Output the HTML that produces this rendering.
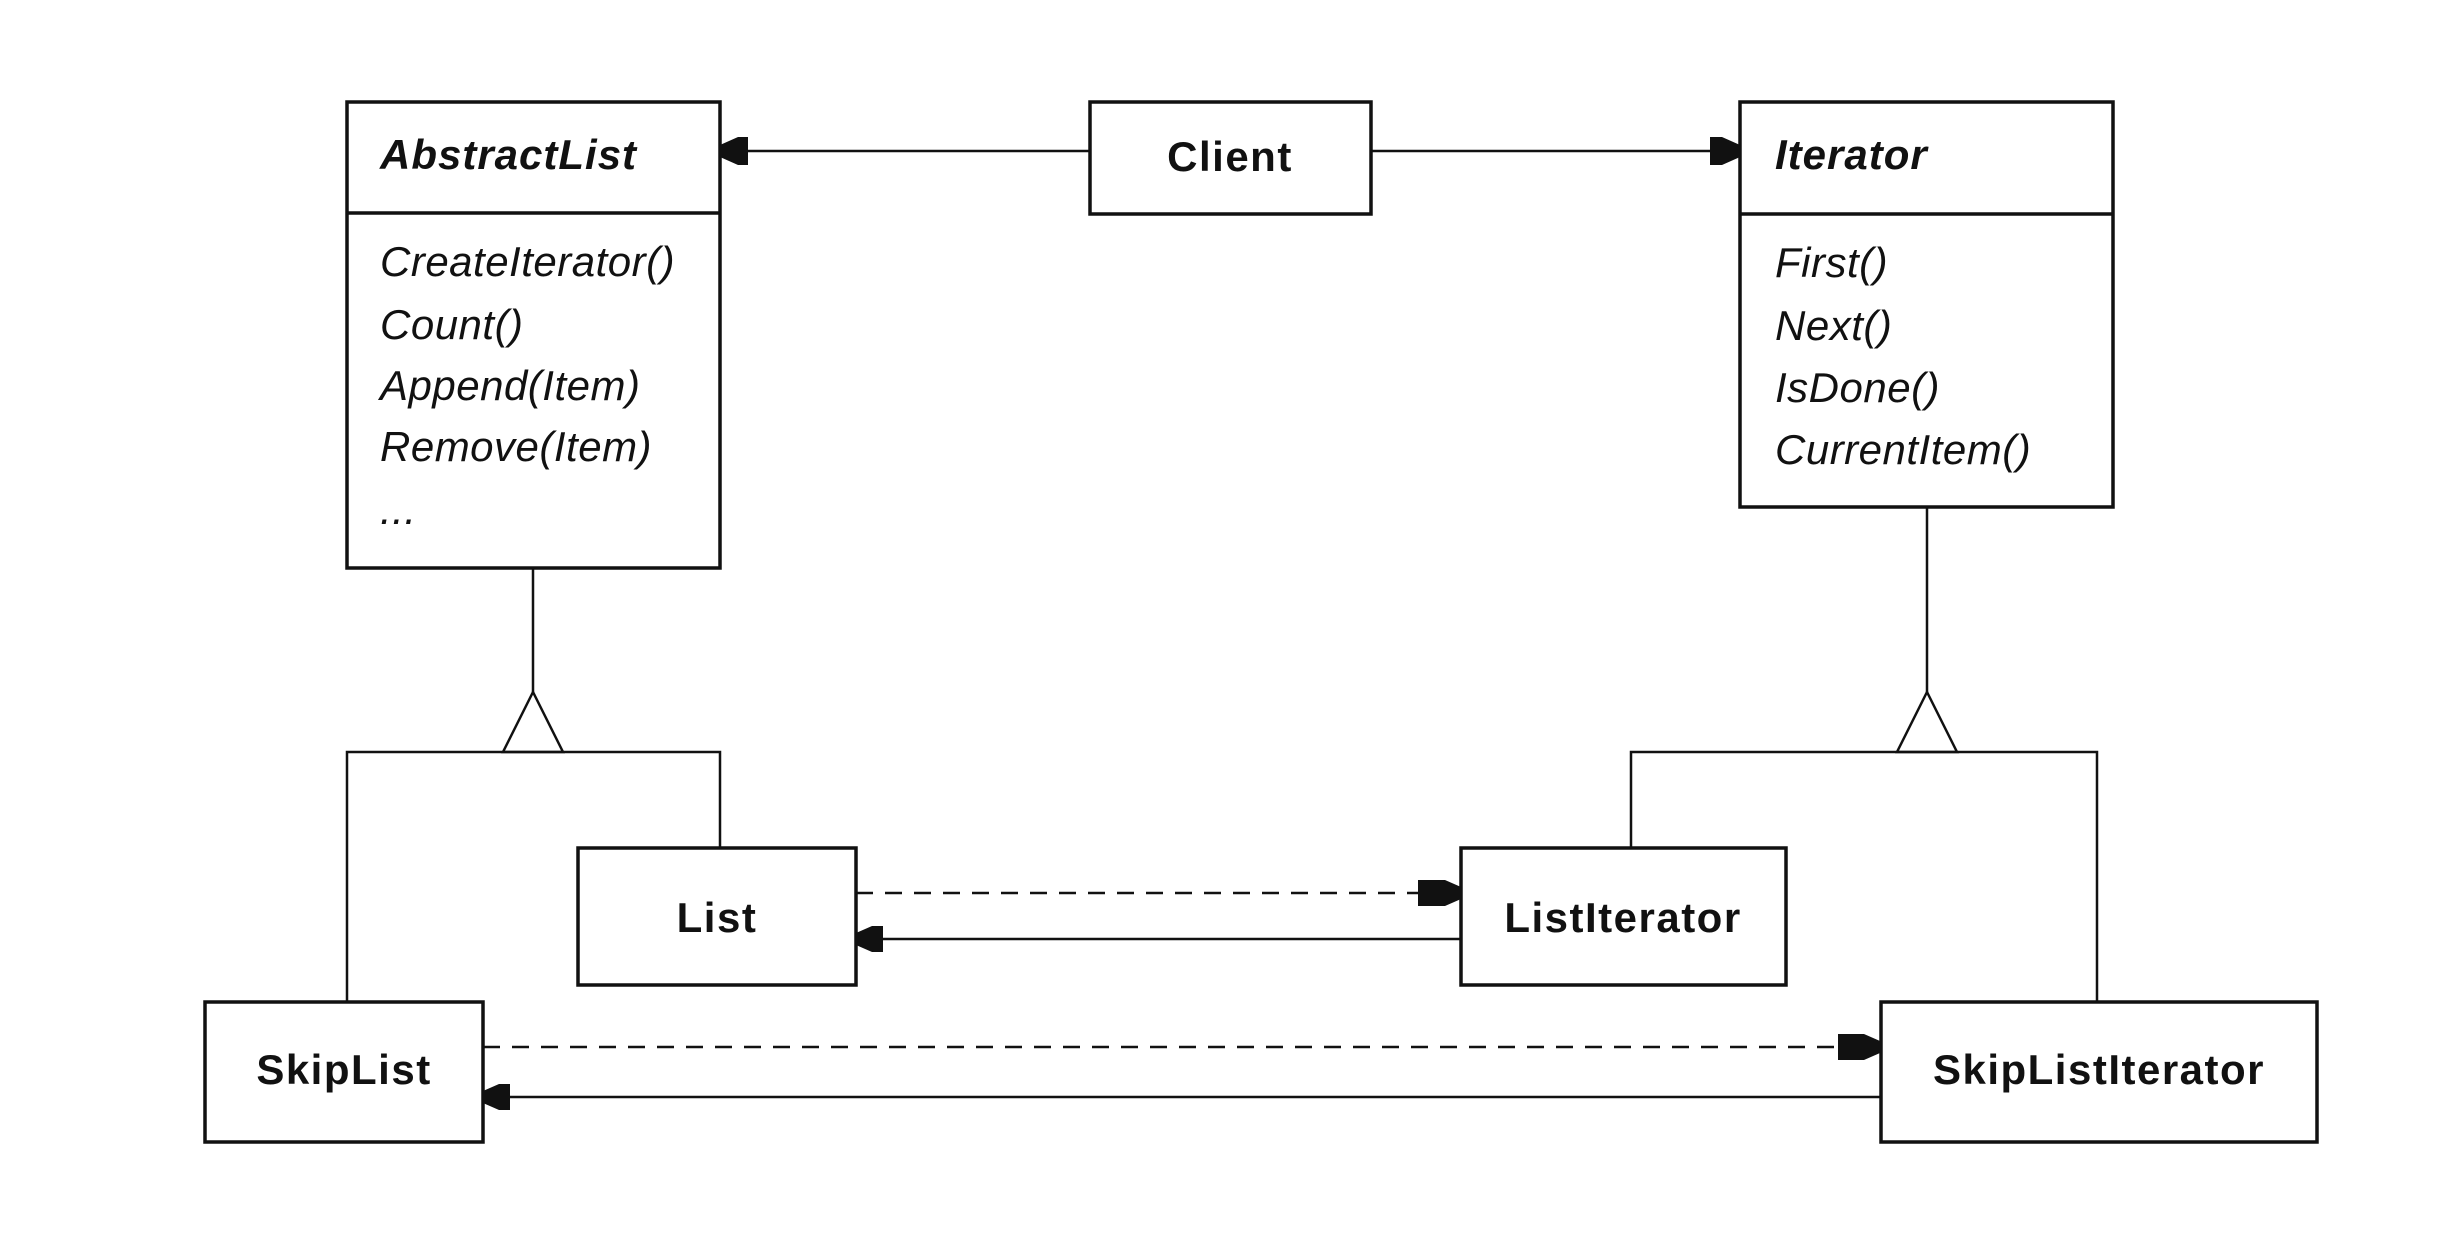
<!DOCTYPE html>
<html><head><meta charset="utf-8"><style>
html,body{margin:0;padding:0;background:#fff;}
svg{display:block;}
text{font-family:"Liberation Sans",Arial,sans-serif;fill:#111;}
.b{font-weight:bold;font-size:42px;letter-spacing:1.5px;}
.bi{font-weight:bold;font-style:italic;font-size:42px;letter-spacing:1px;}
.i{font-style:italic;font-size:42px;letter-spacing:0.5px;}
</style></head><body>
<svg width="2438" height="1244" viewBox="0 0 2438 1244" xmlns="http://www.w3.org/2000/svg">
<g fill="none" stroke="#111" stroke-width="3.5">
<!-- AbstractList -->
<rect x="347" y="102" width="373" height="466"/>
<line x1="347" y1="213" x2="720" y2="213"/>
<!-- Client -->
<rect x="1090" y="102" width="281" height="112"/>
<!-- Iterator -->
<rect x="1740" y="102" width="373" height="405"/>
<line x1="1740" y1="214" x2="2113" y2="214"/>
<!-- List -->
<rect x="578" y="848" width="278" height="137"/>
<rect x="1461" y="848" width="325" height="137"/>
<rect x="205" y="1002" width="278" height="140"/>
<rect x="1881" y="1002" width="436" height="140"/>
</g>
<g fill="none" stroke="#111" stroke-width="2.5">
<!-- client lines -->
<line x1="1090" y1="151" x2="740" y2="151"/>
<line x1="1371" y1="151" x2="1720" y2="151"/>
<!-- generalization left -->
<line x1="533" y1="568" x2="533" y2="692"/>
<polygon points="533,692 503,752 563,752"/>
<polyline points="347,1002 347,752 720,752 720,848"/>
<!-- generalization right -->
<line x1="1927" y1="507" x2="1927" y2="692"/>
<polygon points="1927,692 1897,752 1957,752"/>
<polyline points="1631,848 1631,752 2097,752 2097,1002"/>
<!-- list arrows -->
<line x1="856" y1="893" x2="1430" y2="893" stroke-dasharray="17,12"/>
<line x1="1461" y1="939" x2="875" y2="939"/>
<line x1="483" y1="1047" x2="1850" y2="1047" stroke-dasharray="17,12"/>
<line x1="1881" y1="1097" x2="500" y2="1097"/>
</g>
<g fill="#111">
<!-- arrowheads pointing right: tip at x -->
<polygon points="720,145 738,137 748,137 748,165 738,165 720,157"/>
<polygon points="1740,145 1722,137 1710,137 1710,165 1722,165 1740,157"/>
<polygon points="1461,887 1445,880 1418,880 1418,906 1445,906 1461,899"/>
<polygon points="1880,1041 1864,1034 1838,1034 1838,1060 1864,1060 1880,1053"/>
<polygon points="856,933 872,926 883,926 883,952 872,952 856,945"/>
<polygon points="483,1091 499,1084 510,1084 510,1110 499,1110 483,1103"/>
</g>
<text class="bi" x="380" y="169">AbstractList</text>
<text class="i" x="380" y="276">CreateIterator()</text>
<text class="i" x="380" y="339">Count()</text>
<text class="i" x="380" y="400">Append(Item)</text>
<text class="i" x="380" y="461">Remove(Item)</text>
<text class="i" x="380" y="524">...</text>
<text class="b" x="1230" y="171" text-anchor="middle">Client</text>
<text class="bi" x="1775" y="169">Iterator</text>
<text class="i" x="1775" y="277">First()</text>
<text class="i" x="1775" y="340">Next()</text>
<text class="i" x="1775" y="402">IsDone()</text>
<text class="i" x="1775" y="464">CurrentItem()</text>
<text class="b" x="717" y="932" text-anchor="middle">List</text>
<text class="b" x="1623" y="932" text-anchor="middle">ListIterator</text>
<text class="b" x="344" y="1084" text-anchor="middle">SkipList</text>
<text class="b" x="2099" y="1084" text-anchor="middle">SkipListIterator</text>
</svg>
</body></html>
